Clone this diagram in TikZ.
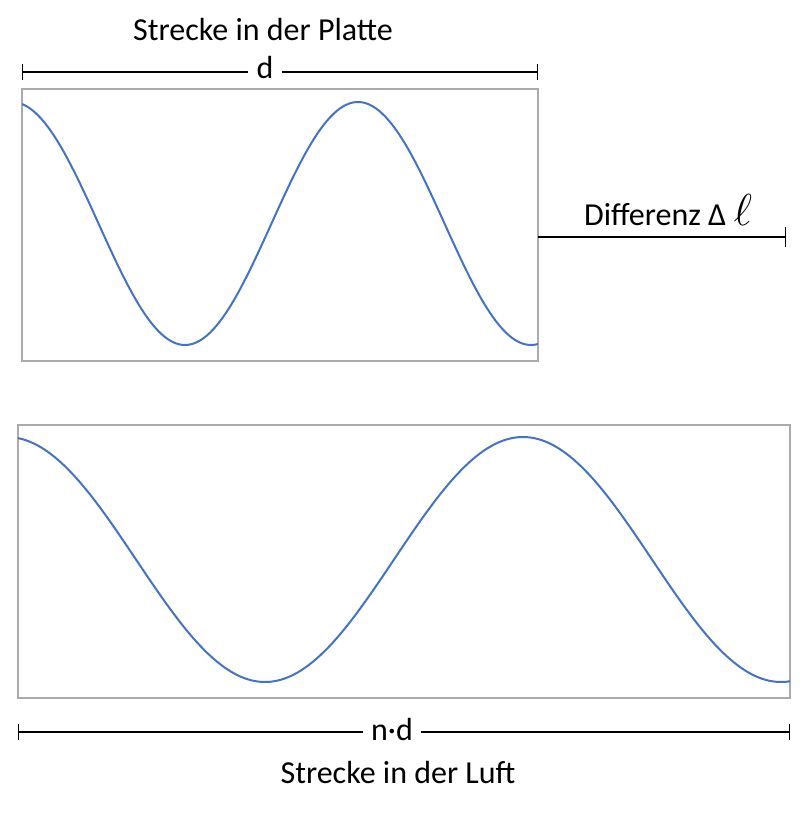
\documentclass[tikz,border=0pt]{standalone}
\usepackage{fontspec}
\setmainfont{Carlito}
\usetikzlibrary{arrows.meta}
\definecolor{wavecol}{HTML}{4472C4}
\definecolor{framecol}{HTML}{ABABAB}
\begin{document}
\begin{tikzpicture}[x=0.75pt,y=-0.75pt,
  framebox/.style={draw=framecol,line width=1.5pt},
  wavecurve/.style={draw=wavecol,line width=1.5pt},
  dimline/.style={draw=black,line width=1.1pt},
  lbl/.style={font=\fontsize{24pt}{28pt}\selectfont,inner sep=6pt}]
\useasboundingbox (0,0) rectangle (804,813);
% boxes
\draw[framebox] (22,89) rectangle (538,361);
\draw[framebox] (18,425) rectangle (790,698);
% waves
\draw[wavecurve] plot[domain=22:538,samples=160,variable=\x] (\x,{223.5-121.5*cos((\x-12)/173*180)});
\draw[wavecurve] plot[domain=18:790,samples=200,variable=\x] (\x,{559.5-122.5*cos((\x-7)/258*180)});
% top dimension
\node[lbl] (top) at (263,30) {Strecke in der Platte};
\node[lbl] (d) at (265,68) {d};
\coordinate (dL) at (22,72);
\coordinate (dR) at (538,72);
\draw[dimline,{Bar[width=12pt]}-] (dL) -- (d.west |- dL);
\draw[dimline,-{Bar[width=12pt]}] (d.east |- dR) -- (dR);
% difference
\node[lbl] (diff) at (668,210) {Differenz Δ \scalebox{1.35}{$\ell$}};
\coordinate (fL) at (538,237);
\coordinate (fR) at (786,237);
\draw[dimline,-{Bar[width=15pt]}] (fL) -- (fR);
% bottom dimension
\node[lbl] (nd) at (392,729) {n·d};
\node[lbl] (bot) at (398,772) {Strecke in der Luft};
\coordinate (nL) at (18,732);
\coordinate (nR) at (790,732);
\draw[dimline,{Bar[width=12pt]}-] (nL) -- (nd.west |- nL);
\draw[dimline,-{Bar[width=12pt]}] (nd.east |- nR) -- (nR);
\end{tikzpicture}
\end{document}
